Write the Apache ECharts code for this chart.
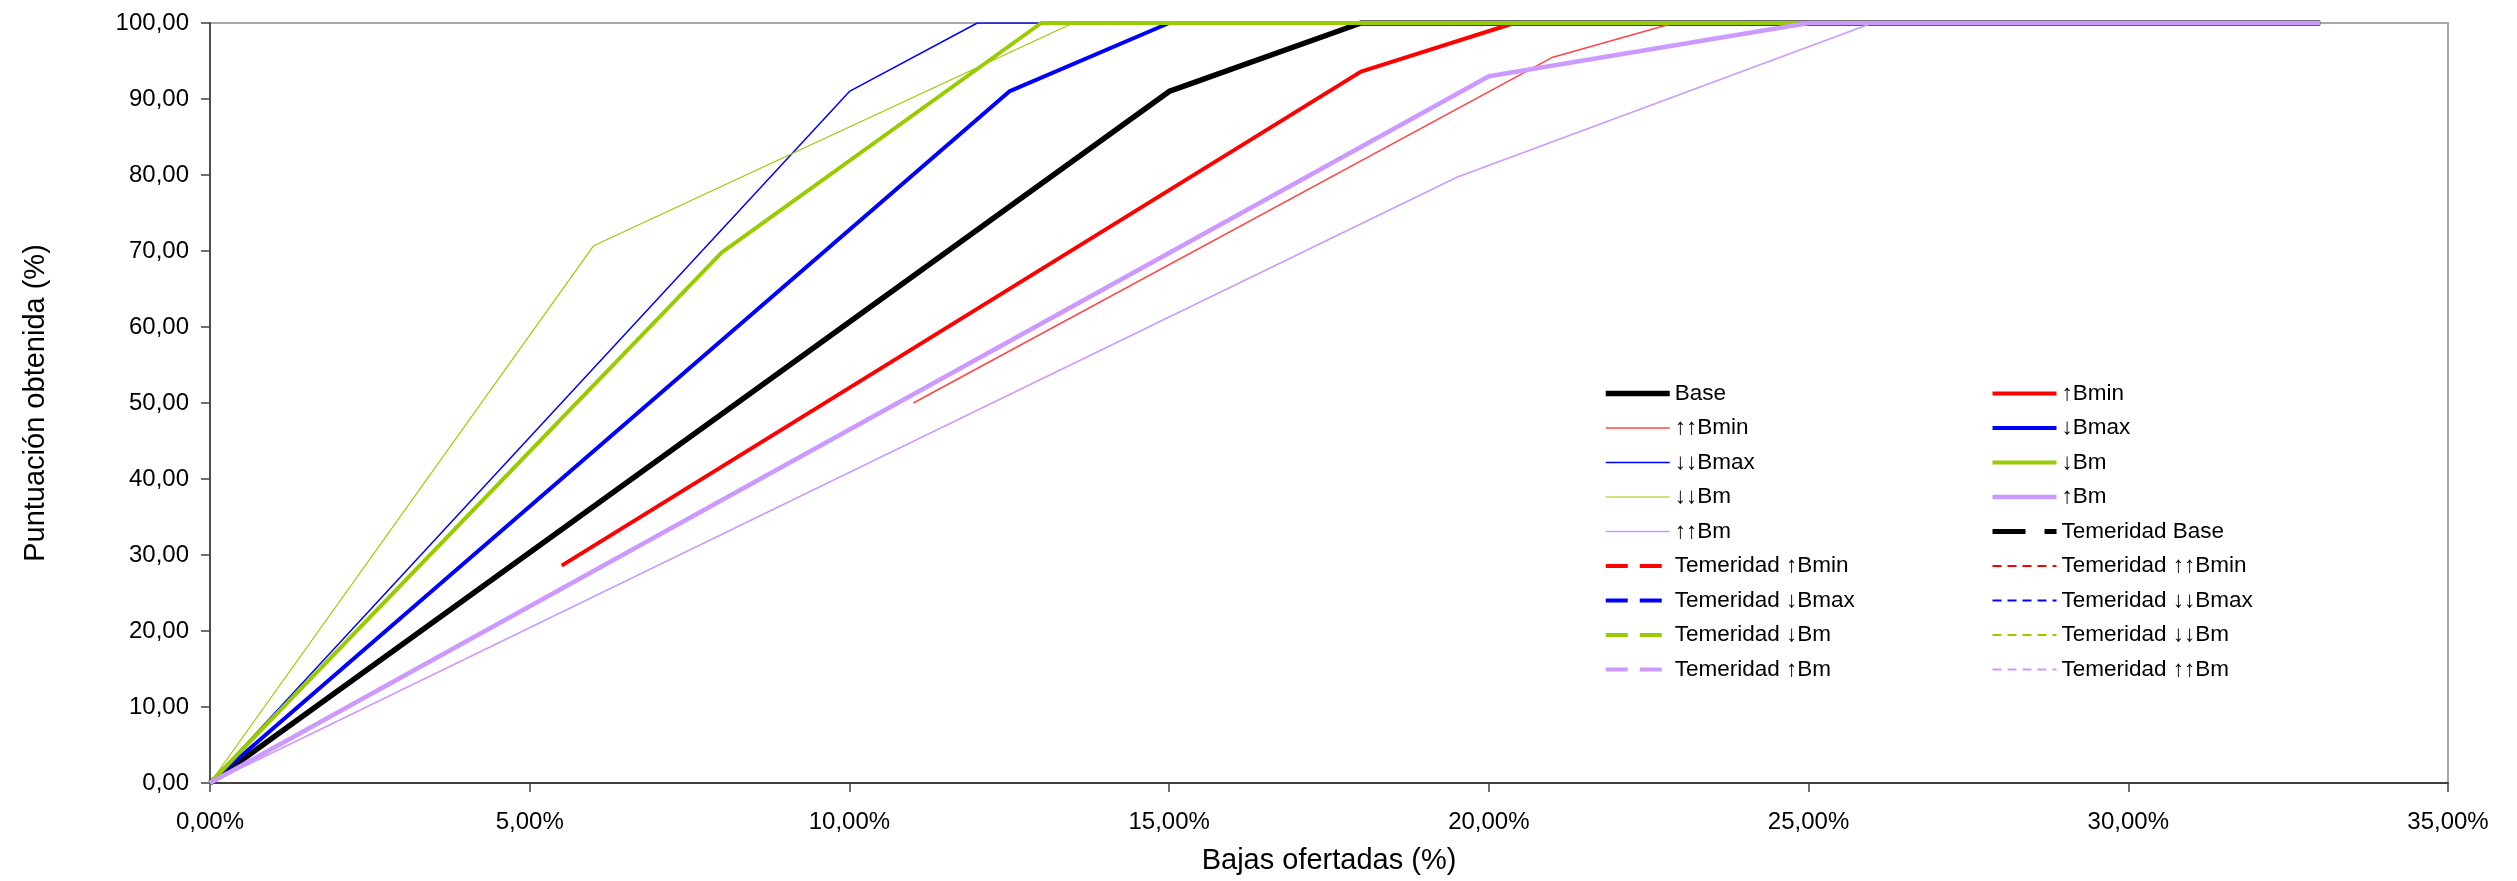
<!DOCTYPE html>
<html>
<head>
<meta charset="utf-8">
<script src="https://cdn.jsdelivr.net/npm/echarts@6/dist/echarts.min.js"></script>
<style>
html,body{margin:0;padding:0;background:#fff;}
#chart{width:2517px;height:881px;}
</style>
</head>
<body>
<div id="chart"></div>
<script>
// ---- Data (x = Bajas ofertadas %, y = Puntuación obtenida %) ----
const xTicks = [0, 5, 10, 15, 20, 25, 30, 35];
const yTicks = [0, 10, 20, 30, 40, 50, 60, 70, 80, 90, 100];

const baseData      = [[0, 0], [15, 91], [18, 100], [33, 100]];
const upBminData    = [[5.5, 28.6], [18, 93.6], [20.4, 100], [33, 100]];
const upUpBminData  = [[11, 50], [21, 95.5], [22.9, 100], [33, 100]];
const downBmaxData  = [[0, 0], [12.5, 91], [15, 100], [33, 100]];
const downDownBmaxData = [[0, 0], [10, 91], [12, 100], [33, 100]];
const downBmData    = [[0, 0], [8, 69.8], [13, 100], [33, 100]];
const downDownBmData = [[0, 0], [6, 70.7], [13.5, 100], [33, 100]];
const upBmData      = [[0, 0], [20, 93], [25, 100], [33, 100]];
const upUpBmData    = [[0, 0], [19.5, 79.7], [26, 100], [33, 100]];
// Temeridad series: no visible marks in the reference
const temBaseData = [], temUpBminData = [], temUpUpBminData = [], temDownBmaxData = [],
      temDownDownBmaxData = [], temDownBmData = [], temDownDownBmData = [], temUpBmData = [], temUpUpBmData = [];

const legendCol1 = ['Base', '↑↑Bmin', '↓↓Bmax', '↓↓Bm', '↑↑Bm', 'Temeridad ↑Bmin', 'Temeridad ↓Bmax', 'Temeridad ↓Bm', 'Temeridad ↑Bm'];
const legendCol2 = ['↑Bmin', '↓Bmax', '↓Bm', '↑Bm', 'Temeridad Base', 'Temeridad ↑↑Bmin', 'Temeridad ↓↓Bmax', 'Temeridad ↓↓Bm', 'Temeridad ↑↑Bm'];

// ---- Styles ----
const RED = '#FF0000', RED2 = '#FF4545', BLUE = '#0000FF', GREEN = '#99CC00', LAV = '#CC99FF', BLACK = '#000000';
const FONT = '"Liberation Sans", Arial, sans-serif';

function line(name, data, color, width, type) {
  return {
    name: name, type: 'line', data: data, symbol: 'none', showSymbol: false,
    lineStyle: { color: color, width: width, type: type || 'solid' },
    itemStyle: { color: color },
    emphasis: { disabled: true },
    silent: true
  };
}

const series = [
  line('Base', baseData, BLACK, 5.5),
  line('↑Bmin', upBminData, RED, 4),
  line('↑↑Bmin', upUpBminData, RED2, 1.5),
  line('↓Bmax', downBmaxData, BLUE, 4),
  line('↓↓Bmax', downDownBmaxData, BLUE, 1.5),
  line('↓Bm', downBmData, GREEN, 4),
  line('↓↓Bm', downDownBmData, GREEN, 1.2),
  line('↑Bm', upBmData, LAV, 4.5),
  line('↑↑Bm', upUpBmData, LAV, 1.5),
  line('Temeridad Base', temBaseData, BLACK, 5, [33, 19]),
  line('Temeridad ↑Bmin', temUpBminData, RED, 4, [22, 12]),
  line('Temeridad ↑↑Bmin', temUpUpBminData, RED, 2, [9, 6]),
  line('Temeridad ↓Bmax', temDownBmaxData, BLUE, 4, [22, 12]),
  line('Temeridad ↓↓Bmax', temDownDownBmaxData, BLUE, 2, [9, 6]),
  line('Temeridad ↓Bm', temDownBmData, GREEN, 4, [22, 12]),
  line('Temeridad ↓↓Bm', temDownDownBmData, GREEN, 2, [9, 6]),
  line('Temeridad ↑Bm', temUpBmData, LAV, 4, [22, 12]),
  line('Temeridad ↑↑Bm', temUpUpBmData, LAV, 2, [9, 6])
];

const legendCommon = {
  orient: 'vertical', itemWidth: 64, itemHeight: 14, itemGap: 11.5, padding: 0,
  selectedMode: false,
  textStyle: { fontFamily: FONT, fontSize: 22.5, color: '#000', lineHeight: 22 },
  itemStyle: { opacity: 0 },
  lineStyle: { width: 'inherit', type: 'inherit' }
};

const chart = echarts.init(document.getElementById('chart'), null, { renderer: 'canvas' });
chart.setOption({
  animation: false,
  backgroundColor: '#fff',
  grid: { left: 210, right: 69, top: 23, bottom: 98, show: true, borderColor: '#A6A6A6', borderWidth: 2, containLabel: false },
  legend: [
    Object.assign({ data: legendCol1, left: 1603, top: 382 }, legendCommon),
    Object.assign({ data: legendCol2, left: 1990, top: 382 }, legendCommon)
  ],
  xAxis: {
    type: 'value', min: xTicks[0], max: xTicks[xTicks.length - 1], interval: 5,
    name: 'Bajas ofertadas (%)', nameLocation: 'middle', nameGap: 63,
    nameTextStyle: { fontFamily: FONT, fontSize: 29, color: '#000' },
    axisLine: { show: true, onZero: false, lineStyle: { color: '#404040', width: 2 } },
    axisTick: { show: true, inside: false, length: 9, lineStyle: { color: '#404040', width: 1.5 } },
    axisLabel: { fontFamily: FONT, fontSize: 24, color: '#000', margin: 27,
      formatter: v => v.toFixed(2).replace('.', ',') + '%' },
    splitLine: { show: false }
  },
  yAxis: {
    type: 'value', min: yTicks[0], max: yTicks[yTicks.length - 1], interval: 10,
    name: 'Puntuación obtenida (%)', nameLocation: 'middle', nameGap: 160,
    nameTextStyle: { fontFamily: FONT, fontSize: 29, color: '#000' },
    axisLine: { show: true, onZero: false, lineStyle: { color: '#505050', width: 2 } },
    axisTick: { show: true, inside: false, length: 9, lineStyle: { color: '#404040', width: 1.5 } },
    axisLabel: { fontFamily: FONT, fontSize: 24, color: '#000', margin: 21,
      formatter: v => v.toFixed(2).replace('.', ',') },
    splitLine: { show: false }
  },
  series: series
});
</script>
</body>
</html>
